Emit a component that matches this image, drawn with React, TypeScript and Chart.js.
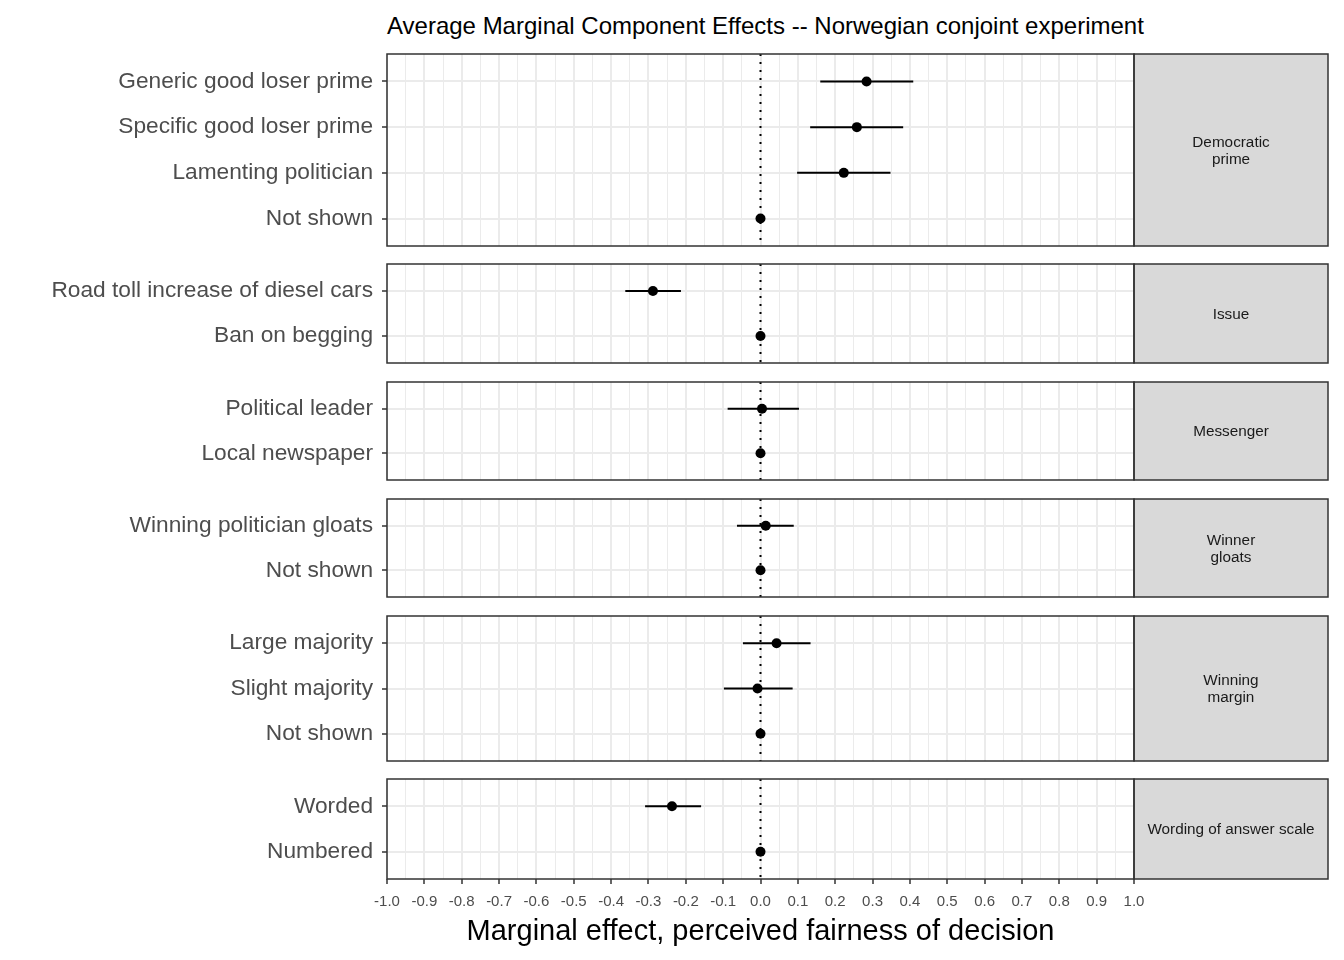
import React, { useEffect, useRef } from "react";
import { Chart, registerables } from "chart.js";

Chart.register(...registerables);

const FONT = '"Liberation Sans", Arial, Helvetica, sans-serif';

// ---------- data ----------
const chartTitle = "Average Marginal Component Effects -- Norwegian conjoint experiment";
const xAxisTitle = "Marginal effect, perceived fairness of decision";

const primeLevels = ["Generic good loser prime", "Specific good loser prime", "Lamenting politician", "Not shown"];
const primeEst = [0.284, 0.258, 0.223, 0];
const primeLo = [0.160, 0.133, 0.098, null];
const primeHi = [0.409, 0.382, 0.348, null];

const issueLevels = ["Road toll increase of diesel cars", "Ban on begging"];
const issueEst = [-0.288, 0];
const issueLo = [-0.362, null];
const issueHi = [-0.213, null];

const messengerLevels = ["Political leader", "Local newspaper"];
const messengerEst = [0.004, 0];
const messengerLo = [-0.088, null];
const messengerHi = [0.103, null];

const gloatLevels = ["Winning politician gloats", "Not shown"];
const gloatEst = [0.014, 0];
const gloatLo = [-0.063, null];
const gloatHi = [0.089, null];

const marginLevels = ["Large majority", "Slight majority", "Not shown"];
const marginEst = [0.043, -0.008, 0];
const marginLo = [-0.047, -0.098, null];
const marginHi = [0.134, 0.086, null];

const wordingLevels = ["Worded", "Numbered"];
const wordingEst = [-0.237, 0];
const wordingLo = [-0.309, null];
const wordingHi = [-0.159, null];

const xMajorTicks = [-1.0, -0.9, -0.8, -0.7, -0.6, -0.5, -0.4, -0.3, -0.2, -0.1, 0.0, 0.1, 0.2, 0.3, 0.4, 0.5, 0.6, 0.7, 0.8, 0.9, 1.0];
const xTickLabels = ["-1.0", "-0.9", "-0.8", "-0.7", "-0.6", "-0.5", "-0.4", "-0.3", "-0.2", "-0.1", "0.0", "0.1", "0.2", "0.3", "0.4", "0.5", "0.6", "0.7", "0.8", "0.9", "1.0"];

type Panel = {
  strip: string[];
  levels: string[];
  est: number[];
  lo: (number | null)[];
  hi: (number | null)[];
};

const panels: Panel[] = [
  { strip: ["Democratic", "prime"], levels: primeLevels, est: primeEst, lo: primeLo, hi: primeHi },
  { strip: ["Issue"], levels: issueLevels, est: issueEst, lo: issueLo, hi: issueHi },
  { strip: ["Messenger"], levels: messengerLevels, est: messengerEst, lo: messengerLo, hi: messengerHi },
  { strip: ["Winner", "gloats"], levels: gloatLevels, est: gloatEst, lo: gloatLo, hi: gloatHi },
  { strip: ["Winning", "margin"], levels: marginLevels, est: marginEst, lo: marginLo, hi: marginHi },
  { strip: ["Wording of answer scale"], levels: wordingLevels, est: wordingEst, lo: wordingLo, hi: wordingHi },
];

// ---------- layout ----------
const W = 1344;
const H = 960;
const PANEL_TOPS = [53, 263, 381, 498, 615, 778];
const PANEL_BOTTOMS = [247, 364, 481, 598, 762, 879];
const PLOT_LEFT = 387;
const PLOT_RIGHT = 1134;
const STRIP_W = 194;
const PAD = 4;

const minorTicks = xMajorTicks.slice(1).map((v, i) => (v + xMajorTicks[i]) / 2);
const allXTicks = [...xMajorTicks, ...minorTicks].sort((a, b) => a - b);
const isMajor = (v: number) => xMajorTicks.some((m) => Math.abs(m - v) < 1e-9);

function PanelChart({ panel, index }: { panel: Panel; index: number }) {
  const ref = useRef<HTMLCanvasElement | null>(null);
  const isLast = index === panels.length - 1;
  const top = PANEL_TOPS[index] - PAD;
  const height = isLast ? H - top : PANEL_BOTTOMS[index] - PANEL_TOPS[index] + 2 * PAD;
  const xAxisHeight = isLast ? H - PANEL_BOTTOMS[index] : 0;

  useEffect(() => {
    if (!ref.current) return;
    const n = panel.levels.length;

    const pointsDs: any = {
      label: "estimate",
      data: panel.est.map((v, i) => ({ x: v, y: i })),
      pointRadius: 5,
      pointBackgroundColor: "#000",
      pointBorderWidth: 0,
      showLine: false,
      order: 0,
    };
    const barDs: any[] = [];
    panel.lo.forEach((l, i) => {
      const h = panel.hi[i];
      if (l === null || h === null) return;
      barDs.push({
        label: "ci" + i,
        data: [
          { x: l, y: i },
          { x: h, y: i },
        ],
        showLine: true,
        borderColor: "#000",
        borderWidth: 2,
        pointRadius: 0,
        order: 1,
      });
    });
    const zeroDs: any = {
      label: "zero",
      data: [
        { x: 0, y: -0.6 },
        { x: 0, y: n - 0.4 },
      ],
      showLine: true,
      borderColor: "#000",
      borderWidth: 2,
      borderDash: [2, 6],
      pointRadius: 0,
      order: 2,
    };

    const deco = {
      id: "panelDeco",
      afterDraw(chart: any) {
        const { ctx } = chart;
        const { left, top: t, right, bottom } = chart.chartArea;
        ctx.save();
        ctx.fillStyle = "#d9d9d9";
        ctx.fillRect(right, t, STRIP_W, bottom - t);
        ctx.strokeStyle = "#333333";
        ctx.lineWidth = 1.5;
        ctx.strokeRect(right, t, STRIP_W, bottom - t);
        ctx.strokeRect(left, t, right - left, bottom - t);
        ctx.fillStyle = "#1a1a1a";
        ctx.font = `15.3px ${FONT}`;
        ctx.textAlign = "center";
        ctx.textBaseline = "middle";
        const lh = 17;
        const cy = (t + bottom) / 2 + 1;
        const cx = right + STRIP_W / 2;
        panel.strip.forEach((s, k) => {
          ctx.fillText(s, cx, cy + (k - (panel.strip.length - 1) / 2) * lh);
        });
        ctx.restore();
      },
    };

    const chart = new Chart(ref.current, {
      type: "scatter",
      data: { datasets: [pointsDs, ...barDs, zeroDs] },
      options: {
        responsive: false,
        animation: false,
        events: [],
        layout: { padding: { left: 0, right: W - PLOT_RIGHT, top: PAD, bottom: isLast ? 0 : PAD } },
        plugins: { legend: { display: false }, tooltip: { enabled: false }, title: { display: false } },
        scales: {
          x: {
            type: "linear",
            min: -1,
            max: 1,
            afterBuildTicks: (scale: any) => {
              scale.ticks = allXTicks.map((v) => ({ value: v }));
            },
            afterFit: (scale: any) => {
              scale.height = xAxisHeight;
              scale.paddingLeft = 0;
              scale.paddingRight = 0;
            },
            ticks: {
              display: isLast,
              autoSkip: false,
              maxRotation: 0,
              padding: 9,
              color: "#4d4d4d",
              font: { family: FONT, size: 15 },
              callback: (value: any) => {
                const k = xMajorTicks.findIndex((m) => Math.abs(m - Number(value)) < 1e-9);
                return k >= 0 ? xTickLabels[k] : "";
              },
            },
            grid: {
              color: "#ebebeb",
              lineWidth: (ctx: any) => (ctx.tick && isMajor(ctx.tick.value) ? 2 : 1),
              drawTicks: isLast,
              tickLength: 5,
              tickWidth: 1.5,
              tickColor: (ctx: any) => (ctx.tick && isMajor(ctx.tick.value) ? "#333333" : "rgba(0,0,0,0)"),
            },
            border: { display: false },
            title: {
              display: isLast,
              text: xAxisTitle,
              color: "#000",
              font: { family: FONT, size: 29 },
              padding: { top: 0, bottom: 11 },
            },
          },
          y: {
            type: "linear",
            reverse: true,
            min: -0.6,
            max: n - 0.4,
            afterBuildTicks: (scale: any) => {
              scale.ticks = panel.levels.map((_, i) => ({ value: i }));
            },
            afterFit: (scale: any) => {
              scale.width = PLOT_LEFT;
              scale.paddingTop = 0;
              scale.paddingBottom = 0;
            },
            ticks: {
              autoSkip: false,
              padding: 9,
              color: "#4d4d4d",
              font: { family: FONT, size: 22.7 },
              callback: (value: any) => panel.levels[Math.round(Number(value))] ?? "",
            },
            grid: {
              color: "#ebebeb",
              lineWidth: 2,
              drawTicks: true,
              tickLength: 5,
              tickWidth: 1.5,
              tickColor: "#333333",
            },
            border: { display: false },
          },
        },
      } as any,
      plugins: [deco],
    });
    return () => chart.destroy();
  }, [panel, index]);

  return (
    <canvas
      ref={ref}
      width={W}
      height={height}
      style={{ position: "absolute", left: 0, top, width: W, height }}
    />
  );
}

export default function App() {
  return (
    <div
      style={{
        position: "absolute",
        left: 0,
        top: 0,
        width: W,
        height: H,
        overflow: "hidden",
        background: "#ffffff",
      }}
    >
      <div
        style={{
          position: "absolute",
          left: PLOT_LEFT,
          top: 14,
          fontFamily: FONT,
          fontSize: 24,
          lineHeight: "24px",
          color: "#000",
          whiteSpace: "nowrap",
        }}
      >
        {chartTitle}
      </div>
      {panels.map((p, i) => (
        <PanelChart key={i} panel={p} index={i} />
      ))}
    </div>
  );
}
